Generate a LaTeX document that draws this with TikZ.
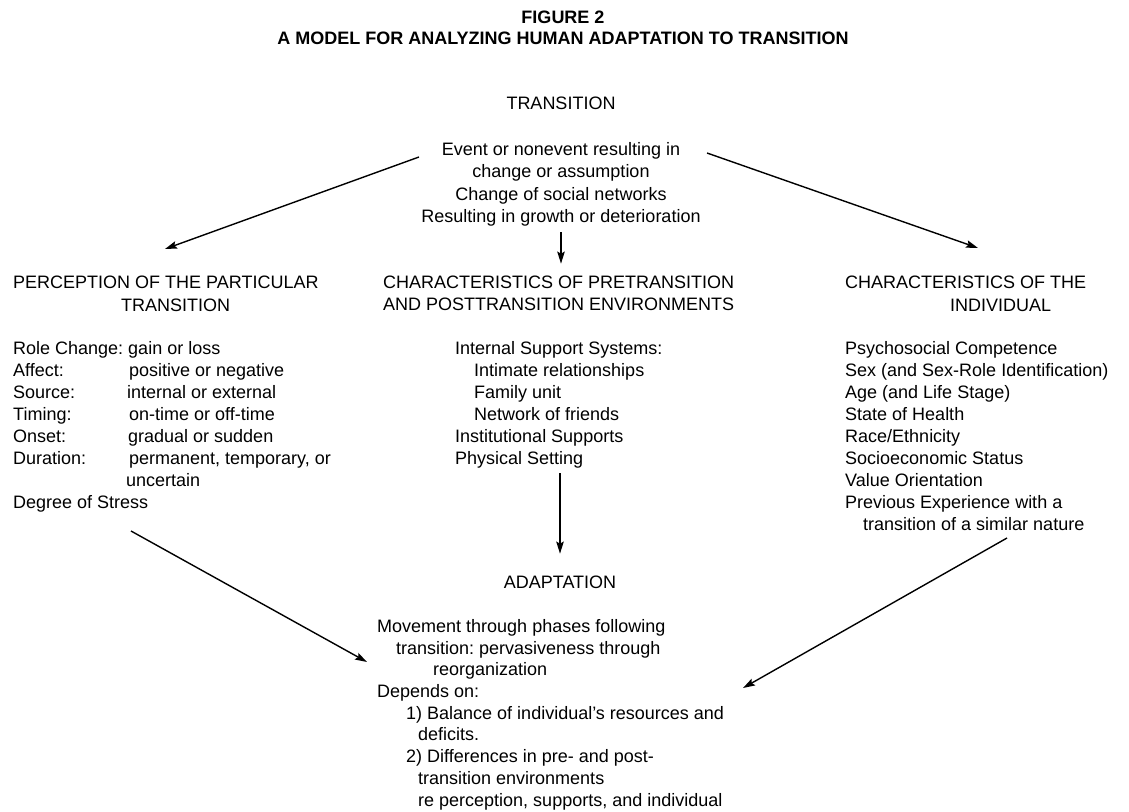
\documentclass[tikz,border=0pt]{standalone}
\usepackage{fontspec}
\setmainfont{Liberation Sans}
\frenchspacing
\usetikzlibrary{arrows.meta}

\begin{document}
\begin{tikzpicture}[x=1bp, y=-1bp,
		txt/.style={inner sep=0pt, align=left, anchor=base west, font=\fontsize{18bp}{22bp}\selectfont},
		ctr/.style={inner sep=0pt, align=center, anchor=base, font=\fontsize{18bp}{22.3bp}\selectfont},
		arr/.style={-{Stealth[length=12bp, width=7.5bp, inset=2bp]}, line width=1.4bp}]
		\useasboundingbox (0,0) rectangle (1129,812);
		
		% multi-line nodes sit on the baseline of their last line
		\node[ctr, font=\bfseries\fontsize{18bp}{21bp}\selectfont] (title) at (563,44.4) {FIGURE 2\\A MODEL FOR ANALYZING HUMAN ADAPTATION TO TRANSITION};
		
		\node[ctr] (trans) at (561,109.4) {TRANSITION};
		\node[ctr] (event) at (561,222.3) {Event or nonevent resulting in\\change or assumption\\Change of social networks\\Resulting in growth or deterioration};
		
		\node[txt, font=\fontsize{18bp}{23bp}\selectfont] (perchead) at (13,311.4) {PERCEPTION OF THE PARTICULAR\\\hspace*{108bp}TRANSITION};
		\node[txt] (perclist) at (13,508.4) {Role Change: gain or loss\\
			\makebox[116bp][l]{Affect:}positive or negative\\
			\makebox[114bp][l]{Source:}internal or external\\
			\makebox[116bp][l]{Timing:}on-time or off-time\\
			\makebox[115bp][l]{Onset:}gradual or sudden\\
			\makebox[116bp][l]{Duration:}permanent, temporary, or\\
			\hspace*{113bp}uncertain\\
			Degree of Stress};
		
		\node[txt] (envhead) at (383,310.4) {CHARACTERISTICS OF PRETRANSITION\\AND POSTTRANSITION ENVIRONMENTS};
		\node[txt] (envlist) at (455,464.4) {Internal Support Systems:\\
			\hspace*{19bp}Intimate relationships\\
			\hspace*{19bp}Family unit\\
			\hspace*{19bp}Network of friends\\
			Institutional Supports\\
			Physical Setting};
		
		\node[txt, font=\fontsize{18bp}{23bp}\selectfont] (indhead) at (845,311.4) {CHARACTERISTICS OF THE\\\hspace*{105bp}INDIVIDUAL};
		\node[txt] (indlist) at (845,530.4) {Psychosocial Competence\\
			Sex (and Sex-Role Identification)\\
			Age (and Life Stage)\\
			State of Health\\
			Race/Ethnicity\\
			Socioeconomic Status\\
			Value Orientation\\
			Previous Experience with a\\
			\hspace*{18bp}transition of a similar nature};
		
		\node[ctr] (adapt) at (560,588.4) {ADAPTATION};
		\node[txt, font=\fontsize{18bp}{21.7bp}\selectfont] (adaptlist) at (377,806) {Movement through phases following\\
			\hspace*{19bp}transition: pervasiveness through\\
			\hspace*{56bp}reorganization\\
			Depends on:\\
			\hspace*{29bp}1) Balance of individual's resources and\\
			\hspace*{41bp}deficits.\\
			\hspace*{29bp}2) Differences in pre- and post-\\
			\hspace*{41bp}transition environments\\
			\hspace*{41bp}re perception, supports, and individual};
		
		\coordinate (tls) at (419,157);
		\coordinate (tle) at (165,249);
		\coordinate (trs) at (707,153);
		\coordinate (tre) at (978,248);
		\coordinate (bls) at (131,531);
		\coordinate (ble) at (367,662);
		\coordinate (brs) at (1007,538);
		\coordinate (bre) at (743,688);
		
		\draw[arr] (tls) to (tle);
		\draw[arr] (trs) to (tre);
		\draw[arr, shorten <=6bp, shorten >=12bp] (event.south) to (event.south |- envhead.north);
		\draw[arr, shorten <=5bp, shorten >=22bp] (adapt.north |- envlist.south) to (adapt.north);
		\draw[arr] (bls) to (ble);
		\draw[arr] (brs) to (bre);
		
	\end{tikzpicture}
\end{document}
